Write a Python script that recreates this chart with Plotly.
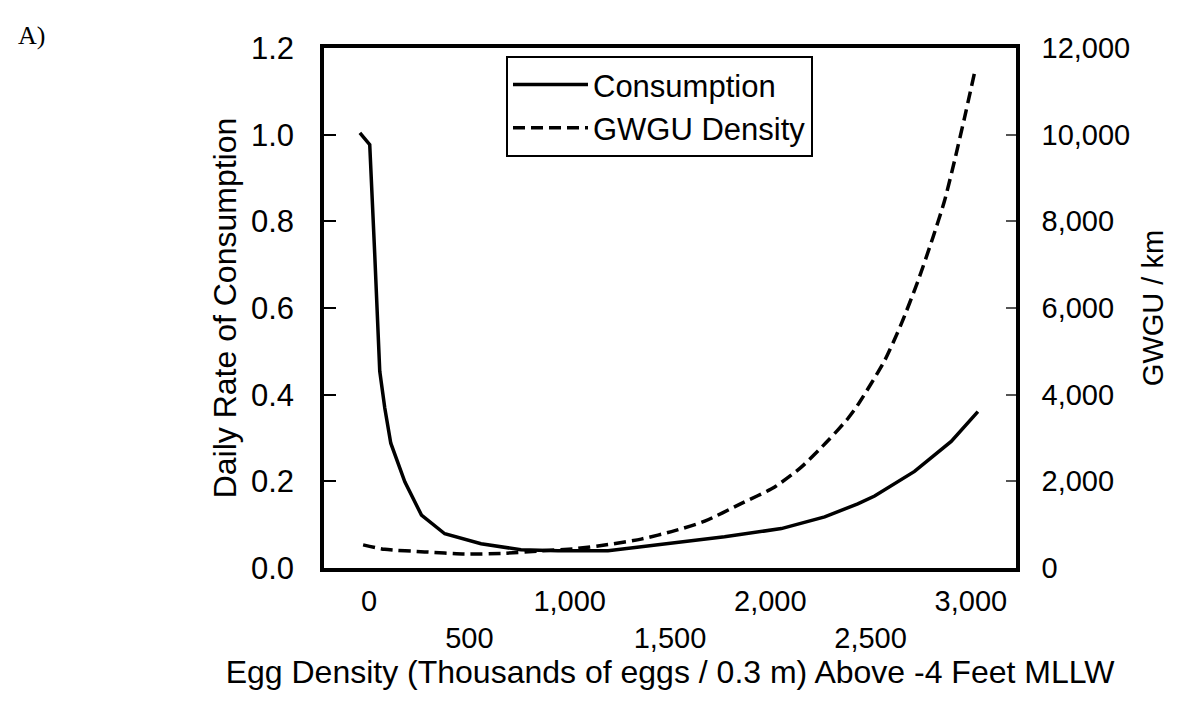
import plotly.graph_objects as go

# Consumption curve (left axis: daily rate of consumption)
cons_x = [-46, 3, 28, 53, 78, 108, 178, 261, 377, 558, 757, 942, 1191, 1440, 1689, 1772, 2055, 2271, 2436, 2520, 2719, 2902, 3035]
cons_y = [1.004, 0.977, 0.723, 0.454, 0.369, 0.288, 0.199, 0.122, 0.079, 0.056, 0.042, 0.040, 0.040, 0.053, 0.066, 0.072, 0.091, 0.118, 0.148, 0.166, 0.223, 0.292, 0.361]

# GWGU density curve (right axis: GWGU / km)
gwgu_x = [-30, 78, 277, 476, 676, 857, 1025, 1191, 1356, 1524, 1673, 1854, 2020, 2153, 2287, 2387, 2436, 2569, 2652, 2736, 2810, 2868, 2918, 2968, 3018]
gwgu_y = [533, 431, 372, 321, 340, 394, 445, 540, 667, 861, 1080, 1485, 1864, 2321, 2935, 3450, 3760, 4776, 5621, 6619, 7617, 8462, 9386, 10383, 11423]

x_tickvals = [0, 500, 1000, 1500, 2000, 2500, 3000]
x_ticktext = ["0", "<br>500", "1,000", "<br>1,500", "2,000", "<br>2,500", "3,000"]
y_tickvals = [0, 0.2, 0.4, 0.6, 0.8, 1.0, 1.2]
y2_tickvals = [0, 2000, 4000, 6000, 8000, 10000, 12000]

FONT = "Liberation Sans, Arial, sans-serif"

fig = go.Figure()
fig.add_trace(go.Scatter(x=cons_x, y=cons_y, mode="lines", name="Consumption",
                         line=dict(color="black", width=3.5)))
fig.add_trace(go.Scatter(x=gwgu_x, y=gwgu_y, mode="lines", name="GWGU Density", yaxis="y2",
                         line=dict(color="black", width=3.5, dash="12px,6px",
                                   shape="spline", smoothing=0.6)))

fig.update_layout(
    width=1178, height=702,
    margin=dict(l=316, r=170, t=40, b=142),
    paper_bgcolor="white", plot_bgcolor="white",
    font=dict(family=FONT, color="black", size=30),
    showlegend=True,
    legend=dict(x=0.263, y=0.985, xanchor="left", yanchor="top",
                bordercolor="black", borderwidth=2, bgcolor="white",
                font=dict(size=31), itemwidth=75, tracegroupgap=0),
    xaxis=dict(range=[-225, 3225], tickvals=x_tickvals, ticktext=x_ticktext,
               showline=True, linecolor="black", linewidth=3.5, mirror=True,
               showgrid=False, zeroline=False, ticks="", ticklabelstandoff=4,
               tickfont=dict(size=29), automargin=False,
               title=dict(text="Egg Density (Thousands of eggs / 0.3 m) Above -4 Feet MLLW",
                          font=dict(size=32), standoff=4)),
    yaxis=dict(range=[0, 1.2], tickvals=y_tickvals, tickformat=".1f",
               showline=True, linecolor="black", linewidth=3.5, mirror=True,
               showgrid=False, zeroline=False, ticks="inside", ticklen=12, tickwidth=1.5,
               tickcolor="black", ticklabelstandoff=20, tickfont=dict(size=31),
               automargin=False,
               title=dict(text="Daily Rate of Consumption", font=dict(size=32), standoff=6)),
    yaxis2=dict(range=[0, 12000], tickvals=y2_tickvals, tickformat=",d",
                overlaying="y", side="right",
                showline=True, linecolor="black", linewidth=3.5,
                showgrid=False, zeroline=False, ticks="inside", ticklen=10, tickwidth=1.5,
                tickcolor="#555", ticklabelstandoff=16, tickfont=dict(size=29),
                automargin=False,
                title=dict(text="GWGU / km", font=dict(size=29), standoff=14)),
    annotations=[dict(text="A)", xref="paper", yref="paper", x=-0.445, y=1.025,
                      xanchor="left", yanchor="middle", showarrow=False,
                      font=dict(family="Liberation Serif, Times New Roman, serif", size=26))],
)

fig.write_html("out.html")
